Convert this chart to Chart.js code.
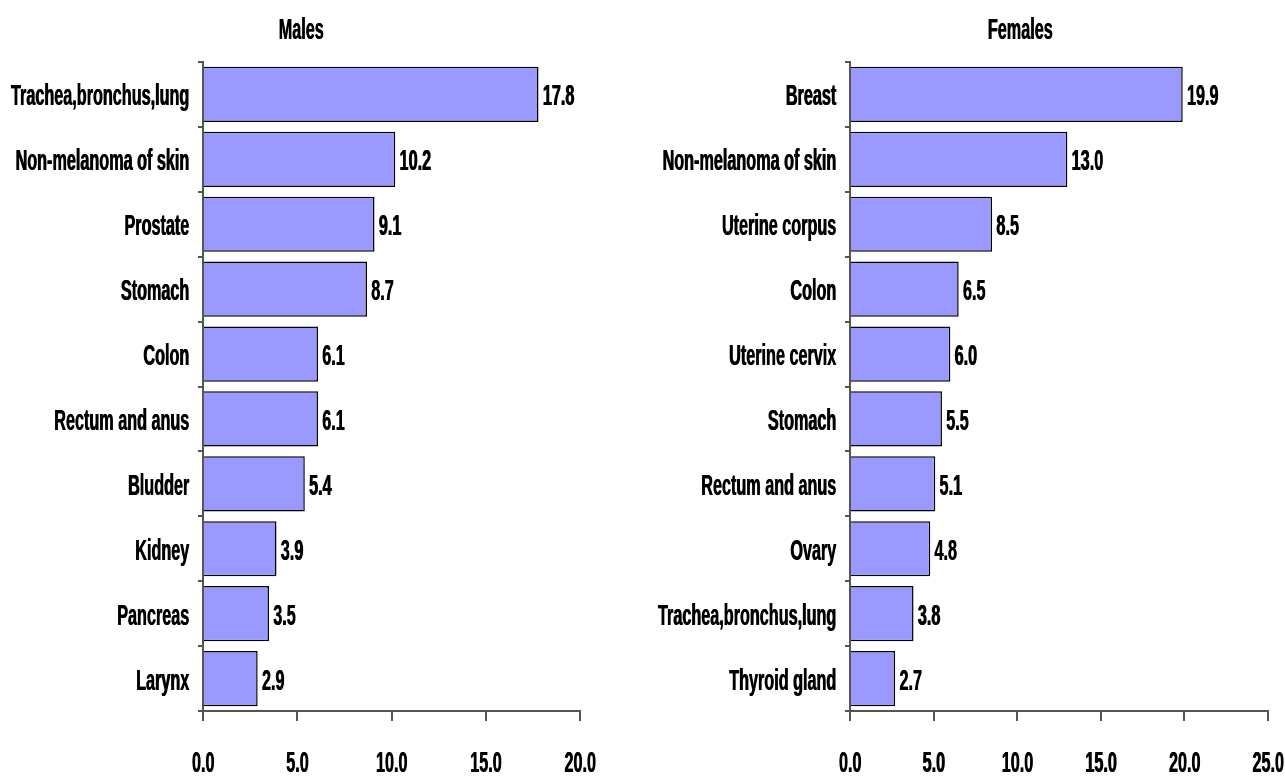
<!DOCTYPE html>
<html>
<head>
<meta charset="utf-8">
<script src="https://cdn.jsdelivr.net/npm/chart.js@4/dist/chart.umd.min.js"></script>
<style>
  body { margin: 0; background: #fff; width: 1285px; height: 776px; position: relative; overflow: hidden; }
  .box { position: absolute; top: 0; height: 776px; }
</style>
</head>
<body>
<div class="box" style="left:0; width:610px"><canvas id="males"></canvas></div>
<div class="box" style="left:640px; width:645px"><canvas id="females"></canvas></div>
<script>
// narrow bold look: Arial-like bold squeezed sideways
const FONT = 'bold 30px "Liberation Sans", Arial, sans-serif';
const SQUEEZE = 0.54;

// data
const maleSites = ['Trachea,bronchus,lung', 'Non-melanoma of skin', 'Prostate', 'Stomach', 'Colon',
    'Rectum and anus', 'Bludder', 'Kidney', 'Pancreas', 'Larynx'];
const maleValues = [17.8, 10.2, 9.1, 8.7, 6.1, 6.1, 5.4, 3.9, 3.5, 2.9];
const maleTicks = [0, 5, 10, 15, 20];

const femaleSites = ['Breast', 'Non-melanoma of skin', 'Uterine corpus', 'Colon', 'Uterine cervix',
    'Stomach', 'Rectum and anus', 'Ovary', 'Trachea,bronchus,lung', 'Thyroid gland'];
const femaleValues = [19.9, 13.0, 8.5, 6.5, 6.0, 5.5, 5.1, 4.8, 3.8, 2.7];
const femaleTicks = [0, 5, 10, 15, 20, 25];

function squeezedText(ctx, text, x, y, align) {
    ctx.save();
    ctx.translate(x, y);
    ctx.scale(SQUEEZE, 1);
    ctx.textAlign = align;
    ctx.fillText(text, 0, 0);
    ctx.fillText(text, 0.6 / SQUEEZE, 0); // a bit heavier
    ctx.restore();
}

// all the text: title, category labels, x tick labels, bar values
const narrowText = {
    id: 'narrowText',
    afterDraw(chart, args, opts) {
        const ctx = chart.ctx;
        const xs = chart.scales.x, ys = chart.scales.y;
        const area = chart.chartArea;
        ctx.save();
        ctx.font = FONT;
        ctx.fillStyle = '#000';
        ctx.textBaseline = 'alphabetic';

        squeezedText(ctx, opts.title, area.left + opts.titleOffset, 39, 'center');

        chart.data.labels.forEach((lab, i) => {
            squeezedText(ctx, lab, area.left - 14, ys.getPixelForValue(i) + 11, 'right');
        });

        xs.ticks.forEach(t => {
            squeezedText(ctx, t.value.toFixed(1), xs.getPixelForValue(t.value), area.bottom + 61, 'center');
        });

        const meta = chart.getDatasetMeta(0);
        const values = chart.data.datasets[0].data;
        meta.data.forEach((bar, i) => {
            squeezedText(ctx, values[i].toFixed(1), bar.x + 4, bar.y + 11, 'left');
        });
        ctx.restore();
    }
};

function makeChart(id, title, titleOffset, labels, values, ticks, yWidth, padRight) {
    const el = document.getElementById(id);
    el.width = el.parentNode.clientWidth;
    el.height = 776;
    return new Chart(el, {
        type: 'bar',
        data: {
            labels: labels,
            datasets: [{
                data: values,
                backgroundColor: '#9999ff',
                borderColor: '#000',
                borderWidth: 1.5,
                barPercentage: 0.85,
                categoryPercentage: 1
            }]
        },
        options: {
            indexAxis: 'y',
            responsive: false,
            animation: false,
            layout: { padding: { top: 62, right: padRight, left: 0, bottom: 0 } },
            plugins: {
                legend: { display: false },
                tooltip: { enabled: false },
                narrowText: { title: title, titleOffset: titleOffset }
            },
            scales: {
                x: {
                    min: ticks[0],
                    max: ticks[ticks.length - 1],
                    afterBuildTicks: s => { s.ticks = ticks.map(v => ({ value: v })); },
                    ticks: { display: false },
                    grid: { drawOnChartArea: false, tickLength: 10, color: '#555', lineWidth: 2 },
                    border: { color: '#555', width: 2 },
                    afterFit: s => { s.height = 65; }
                },
                y: {
                    ticks: { display: false },
                    grid: { drawOnChartArea: false, tickLength: 5, color: '#555', lineWidth: 2 },
                    border: { color: '#555', width: 2 },
                    afterFit: s => { s.width = yWidth; }
                }
            }
        },
        plugins: [narrowText]
    });
}

makeChart('males', 'Males', 98, maleSites, maleValues, maleTicks, 203, 30);
makeChart('females', 'Females', 170, femaleSites, femaleValues, femaleTicks, 210, 17);
</script>
</body>
</html>
